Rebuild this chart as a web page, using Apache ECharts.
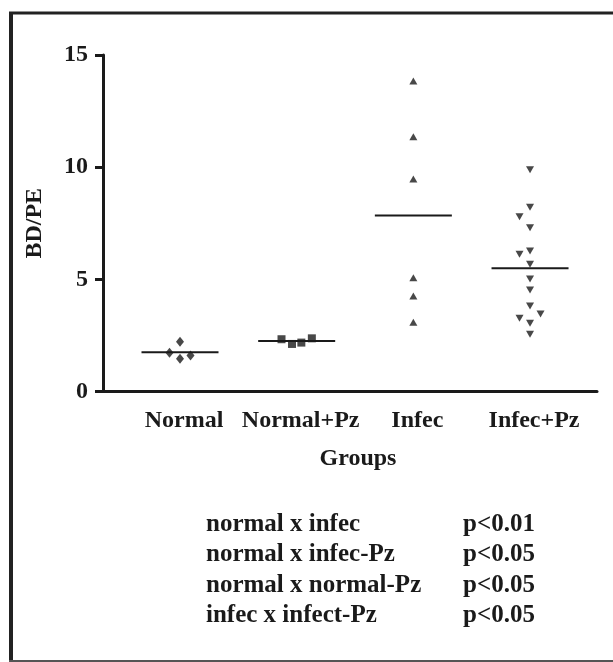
<!DOCTYPE html>
<html>
<head>
<meta charset="utf-8">
<script src="https://cdn.jsdelivr.net/npm/echarts@6/dist/echarts.min.js"></script>
<style>
html,body{margin:0;padding:0;background:#fff;}
#c{width:613px;height:662px;}
</style>
</head>
<body>
<div id="c"></div>
<script>
// ---- data ----
const categories = ['Normal', 'Normal+Pz', 'Infec', 'Infec+Pz'];
const normalValues   = [2.22, 1.73, 1.61, 1.46];
const normalJitter   = [0, -0.09, 0.09, 0];
const normalPzValues = [2.33, 2.12, 2.18, 2.37];
const normalPzJitter = [-0.13, -0.04, 0.04, 0.13];
const infecValues    = [13.84, 11.36, 9.47, 5.07, 4.26, 3.09];
const infecJitter    = [0, 0, 0, 0, 0, 0];
const infecPzValues  = [9.88, 8.21, 7.79, 7.30, 6.26, 6.12, 5.67, 5.02, 4.53, 3.81, 3.46, 3.26, 3.04, 2.55];
const infecPzJitter  = [0, 0, -0.09, 0, 0, -0.09, 0, 0, 0, 0, 0.09, -0.09, 0, 0];
const yTicks = [0, 5, 10, 15];
const comparisons = ['normal x infec', 'normal x infec-Pz', 'normal x normal-Pz', 'infec x infect-Pz'];
const pValues = ['p<0.01', 'p<0.05', 'p<0.05', 'p<0.05'];

// ---- chart ----
const FONT = '"Liberation Serif", "Times New Roman", serif';
const INK = '#1a1a1a';
const groups = [
  {vals: normalValues, jit: normalJitter, symbol: 'diamond', size: [8, 10], rot: 0},
  {vals: normalPzValues, jit: normalPzJitter, symbol: 'rect', size: [8, 8], rot: 0},
  {vals: infecValues, jit: infecJitter, symbol: 'triangle', size: [8, 7], rot: 0},
  {vals: infecPzValues, jit: infecPzJitter, symbol: 'triangle', size: [8, 7], rot: 180}
];
const series = [];
groups.forEach((g, gi) => {
  const c = gi + 1;
  series.push({
    type: 'scatter',
    data: g.vals.map((v, i) => [c + g.jit[i], v]),
    symbol: g.symbol,
    symbolSize: g.size,
    symbolRotate: g.rot,
    itemStyle: {color: INK},
    z: 3
  });
  const mean = g.vals.reduce((a, b) => a + b, 0) / g.vals.length;
  series.push({
    type: 'line',
    data: [[c - 0.33, mean], [c + 0.33, mean]],
    symbol: 'none',
    lineStyle: {color: INK, width: 2},
    z: 2
  });
});

const graphics = [
  {type: 'line', shape: {x1: 9, y1: 13, x2: 613, y2: 13}, style: {stroke: '#222', lineWidth: 3}},
  {type: 'line', shape: {x1: 11, y1: 12, x2: 11, y2: 662}, style: {stroke: '#222', lineWidth: 4}},
  {type: 'line', shape: {x1: 9, y1: 661, x2: 613, y2: 661}, style: {stroke: '#555', lineWidth: 2}}
];
comparisons.forEach((t, i) => {
  const y = 527 + i * 30.5;
  graphics.push({type: 'text', left: 206, top: y - 15, style: {text: t, font: 'bold 25px ' + FONT, fill: INK}});
  graphics.push({type: 'text', left: 463, top: y - 15, style: {text: pValues[i], font: 'bold 25px ' + FONT, fill: INK}});
});

const chart = echarts.init(document.getElementById('c'));
chart.setOption({
  animation: false,
  backgroundColor: '#fff',
  grid: {left: 103, right: 16, top: 55, bottom: 270.5, containLabel: false},
  xAxis: {
    type: 'value', min: 0.34, max: 4.574,
    axisLine: {show: true, onZero: false, lineStyle: {color: INK, width: 3}},
    axisTick: {show: false},
    splitLine: {show: false},
    axisLabel: {
      customValues: [1, 2, 3, 4],
      formatter: v => categories[Math.round(v) - 1] || '',
      fontFamily: FONT, fontSize: 24, fontWeight: 'bold', color: INK, margin: 17,
      padding: [0, 0, 0, 8]
    },
    name: 'Groups', nameLocation: 'middle', nameGap: 55,
    nameTextStyle: {fontFamily: FONT, fontSize: 24, fontWeight: 'bold', color: INK, padding: [0, 0, 0, 16]}
  },
  yAxis: {
    type: 'value', min: 0, max: 15, interval: 5,
    axisLine: {show: true, lineStyle: {color: INK, width: 3}},
    axisTick: {show: true, length: 8, lineStyle: {color: INK, width: 3}},
    splitLine: {show: false},
    axisLabel: {
      customValues: yTicks,
      fontFamily: FONT, fontSize: 24, fontWeight: 'bold', color: INK, margin: 15
    },
    name: 'BD/PE', nameLocation: 'middle', nameGap: 56, nameRotate: 90,
    nameTextStyle: {fontFamily: FONT, fontSize: 24, fontWeight: 'bold', color: INK}
  },
  series: series,
  graphic: graphics
});
</script>
</body>
</html>
